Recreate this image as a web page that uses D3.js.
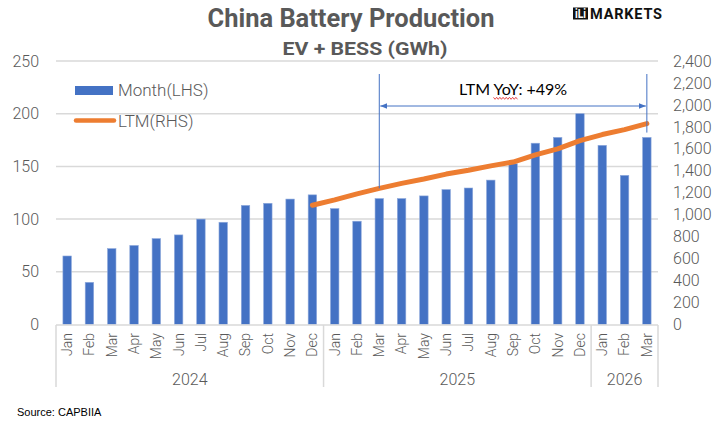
<!DOCTYPE html>
<html>
<head>
<meta charset="utf-8">
<script src="https://cdn.jsdelivr.net/npm/d3@7"></script>
<style>
body{margin:0;background:#fff}
svg text{font-family:Roboto,"DejaVu Sans",sans-serif}
</style>
</head>
<body>
<svg id="chart" width="726" height="427"></svg>
<script>
// monthly production, GWh
var months=["Jan","Feb","Mar","Apr","May","Jun","Jul","Aug","Sep","Oct","Nov","Dec",
            "Jan","Feb","Mar","Apr","May","Jun","Jul","Aug","Sep","Oct","Nov","Dec",
            "Jan","Feb","Mar"]
var years=["2024","2025","2026"]
var yearOf=[0,0,0,0,0,0,0,0,0,0,0,0,1,1,1,1,1,1,1,1,1,1,1,1,2,2,2]
var monthly=[65,40,72,75,81.5,85,100,97,113,115,119,123,
             110,98,119.5,119.5,122,128,129.5,137,152.5,172,177.5,200,
             170,141.5,177.5]
// last twelve months total, GWh (right axis)
var ltm=[null,null,null,null,null,null,null,null,null,null,null,1086,
         1135,1190,1240,1285,1325,1370,1405,1445,1480,1545,1600,1675,
         1730,1775,1830]
var leftTicks=[0,50,100,150,200,250]
var rightTicks=[0,200,400,600,800,1000,1200,1400,1600,1800,2000,2200,2400]

var svg=d3.select("#chart")
var gray="#595959", grid="#d9d9d9", blue="#4472C4", orange="#ED7D31"

var idx=d3.range(months.length)
var x=d3.scaleBand().domain(idx).range([56,658]).paddingInner(0.62).paddingOuter(0.31)
var band=d3.scaleBand().domain(idx).range([56,658])
var yL=d3.scaleLinear().domain([0,250]).range([324.5,61])
var yR=d3.scaleLinear().domain([0,2400]).range([324.5,61])

// gridlines
svg.append("g").selectAll("line").data(leftTicks.slice(1)).enter().append("line")
  .attr("x1",56).attr("x2",658)
  .attr("y1",d=>yL(d)).attr("y2",d=>yL(d))
  .attr("stroke",grid).attr("stroke-width",1.5)

// left axis
var gl=svg.append("g").attr("transform","translate(39,0)")
  .call(d3.axisLeft(yL).tickValues(leftTicks).tickSize(0).tickPadding(0))
gl.select(".domain").remove()
gl.selectAll("text").attr("fill",gray).style("font-size","16px").style("font-weight",300)

// right axis
var gr=svg.append("g").attr("transform","translate(673,0)")
  .call(d3.axisRight(yR).tickValues(rightTicks).tickSize(0).tickPadding(0).tickFormat(d3.format(",")))
gr.select(".domain").remove()
gr.selectAll("text").attr("fill",gray).style("font-size","16px").style("font-weight",300)

// bars
svg.append("g").selectAll("rect").data(monthly).enter().append("rect")
  .attr("x",(d,i)=>x(i)).attr("width",x.bandwidth())
  .attr("y",d=>yL(d)).attr("height",d=>yL(0)-yL(d))
  .attr("fill",blue).attr("stroke","#8faadc").attr("stroke-width",0.6)

// LTM line
var line=d3.line().defined(d=>d!=null)
  .x((d,i)=>band(i)+band.bandwidth()/2).y(d=>yR(d))
svg.append("path").datum(ltm).attr("d",line)
  .attr("fill","none").attr("stroke",orange).attr("stroke-width",5)
  .attr("stroke-linecap","round").attr("stroke-linejoin","round")

// category axis
svg.append("line").attr("x1",56).attr("x2",658).attr("y1",325).attr("y2",325)
  .attr("stroke",grid).attr("stroke-width",1.5)
var seps=[0]
yearOf.forEach((v,i)=>{ if(i>0 && v!=yearOf[i-1]) seps.push(i) })
seps.push(months.length)
var sepX=d=>d<months.length?band(d):658
svg.append("g").selectAll("line").data(seps).enter().append("line")
  .attr("x1",sepX).attr("x2",sepX)
  .attr("y1",325).attr("y2",387).attr("stroke",grid).attr("stroke-width",1.5)

svg.append("g").selectAll("text").data(months).enter().append("text")
  .attr("transform",(d,i)=>"translate("+(band(i)+band.bandwidth()/2)+",333) rotate(-90)")
  .attr("dy","0.35em").attr("text-anchor","end")
  .attr("fill",gray).style("font-size","14px").style("font-weight",300).text(d=>d)

svg.append("g").selectAll("text").data(years).enter().append("text")
  .attr("x",(d,k)=>(sepX(seps[k])+sepX(seps[k+1]))/2)
  .attr("y",385).attr("text-anchor","middle")
  .attr("fill",gray).style("font-size","16px").style("font-weight",300).text(d=>d)

// annotation
var i0=14, i1=26
var ax0=band(i0)+band.bandwidth()/2, ax1=band(i1)+band.bandwidth()/2
var defs=svg.append("defs")
defs.append("marker").attr("id","arr").attr("viewBox","0 0 10 10").attr("refX",10).attr("refY",5)
  .attr("markerWidth",7).attr("markerHeight",7).attr("orient","auto-start-reverse")
  .append("path").attr("d","M0,1 L10,5 L0,9 Z").attr("fill",blue)
svg.append("line").attr("x1",ax0).attr("x2",ax0).attr("y1",74).attr("y2",yR(ltm[i0]))
  .attr("stroke",blue).attr("stroke-width",1)
svg.append("line").attr("x1",ax1).attr("x2",ax1).attr("y1",74).attr("y2",yR(ltm[i1])+9)
  .attr("stroke",blue).attr("stroke-width",1)
svg.append("line").attr("x1",ax0+1).attr("x2",ax1-1).attr("y1",106).attr("y2",106)
  .attr("stroke",blue).attr("stroke-width",1)
  .attr("marker-start","url(#arr)").attr("marker-end","url(#arr)")
var note=svg.append("text").attr("x",(ax0+ax1)/2).attr("y",95).attr("text-anchor","middle")
  .style("font-family","Lato,'Liberation Sans',sans-serif").style("font-size","16px")
  .attr("fill","#000").text("LTM YoY: +49%")
var nn=note.node(), s=nn.getStartPositionOfChar(4).x, e=nn.getEndPositionOfChar(6).x
var zz=[], xx=s, up=true
while(xx<=e){ zz.push([xx,up?97.3:99.3]); xx+=1.6; up=!up }
svg.append("path").attr("d",d3.line()(zz)).attr("fill","none").attr("stroke","#e02020").attr("stroke-width",0.8)

// title
svg.append("text").attr("x",351).attr("y",27).attr("text-anchor","middle")
  .attr("textLength",287).attr("lengthAdjust","spacingAndGlyphs")
  .attr("fill",gray).style("font-size","25px").style("font-weight","bold").text("China Battery Production")
svg.append("text").attr("x",365).attr("y",55).attr("text-anchor","middle")
  .attr("textLength",165).attr("lengthAdjust","spacingAndGlyphs")
  .attr("fill",gray).style("font-size","18px").style("font-weight","bold").text("EV + BESS (GWh)")

// logo
svg.append("rect").attr("x",573).attr("y",7.5).attr("width",15).attr("height",12).attr("fill","#111")
svg.append("text").attr("x",580.5).attr("y",18).attr("text-anchor","middle").attr("fill","#fff")
  .attr("textLength",11).attr("lengthAdjust","spacingAndGlyphs")
  .style("font-size","12px").style("font-weight","bold").text("iLi")
svg.append("text").attr("x",590).attr("y",19).attr("fill","#111")
  .attr("textLength",72).attr("lengthAdjust","spacing")
  .style("font-size","14.5px").style("font-weight","bold").text("MARKETS")

// legend
svg.append("rect").attr("x",75).attr("y",86).attr("width",38).attr("height",9).attr("fill",blue)
svg.append("text").attr("x",118).attr("y",90.5).attr("dy","0.35em").attr("fill",gray)
  .style("font-size","17px").style("font-weight",300).text("Month(LHS)")
svg.append("line").attr("x1",76).attr("x2",114).attr("y1",120.5).attr("y2",120.5)
  .attr("stroke",orange).attr("stroke-width",4.5).attr("stroke-linecap","round")
svg.append("text").attr("x",118).attr("y",121.5).attr("dy","0.35em").attr("fill",gray)
  .style("font-size","17px").style("font-weight",300).text("LTM(RHS)")

// source
svg.append("text").attr("x",17).attr("y",416).attr("fill","#000")
  .style("font-family","'Liberation Sans',sans-serif").style("font-size","11px").text("Source: CAPBIIA")
</script>
</body>
</html>
